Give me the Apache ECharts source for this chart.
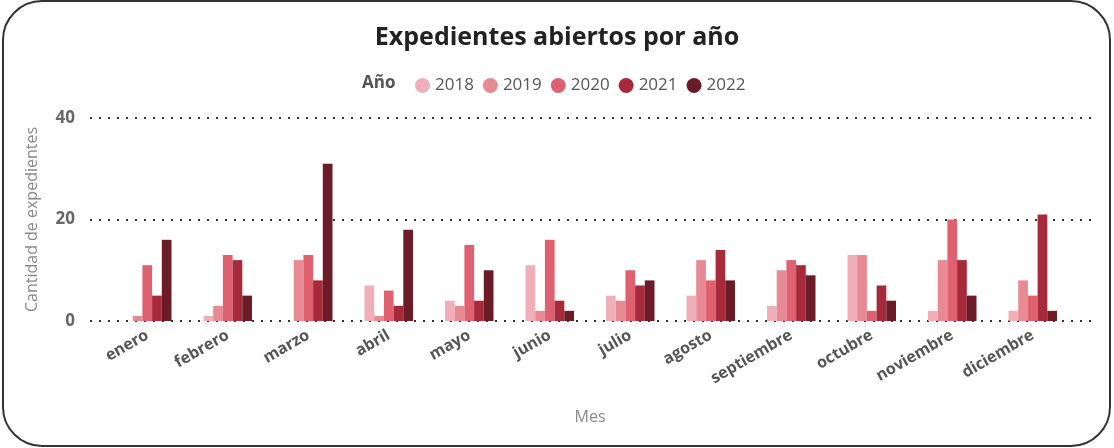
<!DOCTYPE html>
<html>
<head>
<meta charset="utf-8">
<script src="https://cdn.jsdelivr.net/npm/echarts@6/dist/echarts.min.js"></script>
<style>
  html, body { margin: 0; padding: 0; background: #fff; }
  #frame { position: absolute; left: 2px; top: 0px; width: 1105px; height: 443px; border: 2px solid #333; border-radius: 40px; }
  #chart { position: absolute; left: 0; top: 0; width: 1114px; height: 448px; }
</style>
</head>
<body>
<div id="frame"></div>
<div id="chart"></div>
<script>
const months = ['enero','febrero','marzo','abril','mayo','junio','julio','agosto','septiembre','octubre','noviembre','diciembre'];
const years = ['2018','2019','2020','2021','2022'];
const v2018 = [0, 1, 0, 7, 4, 11, 5, 5, 3, 13, 2, 2];
const v2019 = [1, 3, 12, 1, 3, 2, 4, 12, 10, 13, 12, 8];
const v2020 = [11, 13, 13, 6, 15, 16, 10, 8, 12, 2, 20, 5];
const v2021 = [5, 12, 8, 3, 4, 4, 7, 14, 11, 7, 12, 21];
const v2022 = [16, 5, 31, 18, 10, 2, 8, 8, 9, 4, 5, 2];
const yTicks = [0, 20, 40];
const colors = ['#F0AFB8', '#E88A94', '#DF6170', '#A62A3A', '#6B1C27'];
const values = [v2018, v2019, v2020, v2021, v2022];

const chart = echarts.init(document.getElementById('chart'));
const font = '"Open Sans", "DejaVu Sans", sans-serif';
chart.setOption({
  animation: false,
  textStyle: { fontFamily: font },
  title: {
    text: 'Expedientes abiertos por año',
    left: 'center', top: 20,
    textStyle: { fontFamily: font, fontSize: 25, fontWeight: 'bold', color: '#222' }
  },
  legend: {
    data: years,
    top: 72, left: 410,
    icon: 'circle', itemWidth: 15, itemHeight: 15, itemGap: 9,
    textStyle: { fontFamily: font, fontSize: 17, color: '#555' }
  },
  graphic: [{
    type: 'text', left: 362, top: 75,
    style: { text: 'Año', font: 'bold 17px ' + font, fill: '#555' }
  }],
  grid: [
    { left: 90, right: 19, top: 118, bottom: 127 },
    { left: 107, right: 41, top: 118, bottom: 127 }
  ],
  xAxis: [
    { type: 'value', gridIndex: 0, show: false, min: 0, max: 1 },
    {
      type: 'category', gridIndex: 1, data: months,
      axisLine: { show: false }, axisTick: { show: false },
      axisLabel: { rotate: 30, margin: 13, fontFamily: font, fontSize: 16, fontWeight: 'bold', color: '#555' },
      name: 'Mes', nameLocation: 'middle', nameGap: 88,
      nameTextStyle: { fontFamily: font, fontSize: 16, color: '#888' }
    }
  ],
  yAxis: [
    {
      type: 'value', gridIndex: 0, min: 0, max: 40, interval: 20,
      axisLine: { show: false }, axisTick: { show: false },
      axisLabel: { margin: 15, fontFamily: font, fontSize: 17, fontWeight: 'bold', color: '#666',
        formatter: v => yTicks.includes(v) ? String(v) : '' },
      splitLine: { show: true, lineStyle: { type: [2, 7], color: '#333', width: 2 } },
      name: 'Cantidad de expedientes', nameLocation: 'middle', nameGap: 50,
      nameTextStyle: { fontFamily: font, fontSize: 16, color: '#888' }
    },
    { type: 'value', gridIndex: 1, min: 0, max: 40, interval: 20, show: false, splitLine: { show: false } }
  ],
  series: years.map((y, i) => ({
    name: y, type: 'bar', xAxisIndex: 1, yAxisIndex: 1,
    data: values[i], barWidth: 9.7, barGap: '0%',
    itemStyle: { color: colors[i] }
  }))
});
</script>
</body>
</html>
